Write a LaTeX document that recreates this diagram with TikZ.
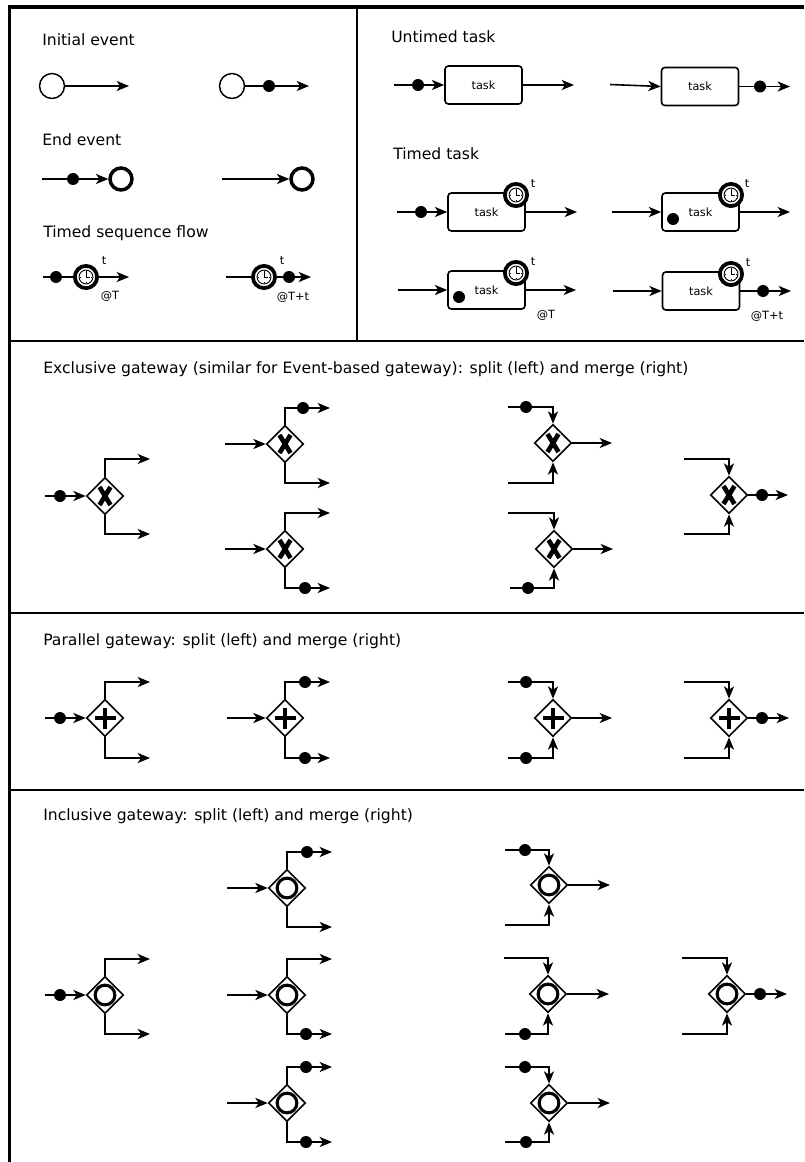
\documentclass[tikz,border=0pt]{standalone}
\usepackage{fontspec}
\setmainfont{DejaVu Sans}
\usetikzlibrary{shapes.geometric,arrows.meta}
\begin{document}
\begin{tikzpicture}[x=0.75pt,y=-0.75pt,
  ln/.style={line width=1.2pt},
  arr/.style={line width=1.2pt,-{Stealth[length=9.3pt,width=7.6pt,inset=2.6pt]}},
  dotn/.style={circle,fill=black,minimum size=9pt,inner sep=0pt},
  startev/.style={circle,draw,line width=1.1pt,minimum size=18.75pt,inner sep=0pt},
  endev/.style={circle,draw,line width=2.6pt,minimum size=16.5pt,inner sep=0pt},
  clk/.style={circle,draw,line width=2.8pt,fill=white,minimum size=16.7pt,inner sep=0pt},
  taskbox/.style={draw,line width=1.2pt,rounded corners=2.5pt,minimum width=57.75pt,minimum height=28.5pt,inner sep=0pt,font=\fontsize{8.5}{10}\selectfont},
  gw/.style={diamond,draw,line width=1.2pt,fill=white,minimum width=27.75pt,minimum height=27.75pt,inner sep=0pt},
  lbl/.style={anchor=west,inner sep=0pt,font=\fontsize{11.7}{14}\selectfont},
  small/.style={inner sep=0pt,font=\fontsize{8.5}{10}\selectfont},
  frame/.style={line width=2.6pt},
  divider/.style={line width=1.5pt},
  clockface/.pic={\draw[line width=0.7pt] (0,0) circle[radius=5.2pt];
    \draw[line width=0.7pt] (0,0) -- (0,-5) (0,0) -- (3.6,0);
    \draw[line width=0.4pt] (0,-6) -- (0,-5.2) (0,6) -- (0,5.2) (-6,0) -- (-5.2,0) (6,0) -- (5.2,0);},
  xmk/.pic={\draw[line width=3.5pt] (-5.5,-9) -- (5.5,9) (5.5,-9) -- (-5.5,9);},
  plusmk/.pic={\draw[line width=3.6pt] (0,-10.5) -- (0,10.5) (-10.5,0) -- (10.5,0);},
  omk/.pic={\draw[line width=2.3pt] (0,0) circle[radius=7.4pt];}
]
\useasboundingbox (0,0) rectangle (804,1162);

% ---------- frame and dividers ----------
\draw[frame,line join=miter] (9.5,1162) -- (9.5,7) -- (804,7);
\draw[divider] (357,7) -- (357,341);
\draw[divider] (9.5,341) -- (804,341);
\draw[divider] (9.5,613) -- (804,613);
\draw[divider] (9.5,790) -- (804,790);

% ---------- Initial event ----------
\node[lbl] (l1) at (42,40) {Initial event};
\node[startev] (s1) at (52,86) {};
\coordinate (s1e) at (129,86);
\draw[arr] (s1) -- (s1e);
\node[startev] (s2) at (232,86) {};
\node[dotn] (s2d) at (269,86) {};
\coordinate (s2e) at (309,86);
\draw[ln] (s2) -- (s2d);
\draw[arr] (s2d) -- (s2e);

% ---------- End event ----------
\node[lbl] (l2) at (42,140) {End event};
\coordinate (e1s) at (42,179);
\node[dotn] (e1d) at (73,179) {};
\node[endev] (e1) at (121,179) {};
\draw[ln] (e1s) -- (e1d);
\draw[arr] (e1d) -- (e1);
\coordinate (e2s) at (222,179);
\node[endev] (e2) at (302,179) {};
\draw[arr] (e2s) -- (e2);

% ---------- Timed sequence flow ----------
\node[lbl] (l3) at (43,233) {Timed sequence flow};
\coordinate (f1s) at (43,277);
\node[dotn] (f1d) at (56,277) {};
\node[clk] (f1c) at (86,277) {};
\pic at (f1c) {clockface};
\coordinate (f1e) at (129,277);
\draw[ln] (f1s) -- (f1d);
\draw[ln] (f1d) -- (f1c);
\draw[arr] (f1c) -- (f1e);
\node[small] (f1t) at (104,261) {t};
\node[small] (f1T) at (110,296) {@T};

\coordinate (f2s) at (226,277);
\node[clk] (f2c) at (264,277) {};
\pic at (f2c) {clockface};
\node[dotn] (f2d) at (289,277) {};
\coordinate (f2e) at (311,277);
\draw[ln] (f2s) -- (f2c);
\draw[ln] (f2c) -- (f2d);
\draw[arr] (f2d) -- (f2e);
\node[small] (f2t) at (282,261) {t};
\node[small] (f2T) at (293,297) {@T+t};

% ---------- Untimed task ----------
\node[lbl] (l4) at (391,37) {Untimed task};
\coordinate (u1s) at (394,85);
\node[dotn] (u1d) at (418,85) {};
\node[taskbox] (u1) at (483.5,85) {task};
\coordinate (u1e) at (574,85);
\draw[ln] (u1s) -- (u1d);
\draw[arr] (u1d) -- (u1);
\draw[arr] (u1) -- (u1e);

\coordinate (u2s) at (610,84.5);
\node[taskbox] (u2) at (700,86.5) {task};
\node[dotn] (u2d) at (760,86.5) {};
\coordinate (u2e) at (790,86.5);
\draw[arr] (u2s) -- (u2.west);
\draw[ln] (u2) -- (u2d);
\draw[arr] (u2d) -- (u2e);

% ---------- Timed task ----------
\node[lbl] (l5) at (393,154) {Timed task};
% row 1 left
\coordinate (t1s) at (397,212);
\node[dotn] (t1d) at (421,212) {};
\node[taskbox] (t1) at (486.5,212) {task};
\node[clk] (t1c) at (516,195) {};
\pic at (t1c) {clockface};
\node[small] (t1t) at (533,184) {t};
\coordinate (t1e) at (577,212);
\draw[ln] (t1s) -- (t1d);
\draw[arr] (t1d) -- (t1);
\draw[arr] (t1) -- (t1e);
% row 1 right
\coordinate (t2s) at (612,212);
\node[taskbox] (t2) at (700.5,212) {task};
\node[dotn] (t2d) at (673,219) {};
\node[clk] (t2c) at (731,195) {};
\pic at (t2c) {clockface};
\node[small] (t2t) at (747,184) {t};
\coordinate (t2e) at (790,212);
\draw[arr] (t2s) -- (t2);
\draw[arr] (t2) -- (t2e);
% row 2 left
\coordinate (t3s) at (398,290);
\node[taskbox] (t3) at (486.5,290) {task};
\node[dotn] (t3d) at (459,297) {};
\node[clk] (t3c) at (516,273) {};
\pic at (t3c) {clockface};
\node[small] (t3t) at (533,262) {t};
\coordinate (t3e) at (576,290);
\draw[arr] (t3s) -- (t3);
\draw[arr] (t3) -- (t3e);
\node[small] (t3T) at (546,315) {@T};
% row 2 right
\coordinate (t4s) at (613,291);
\node[taskbox] (t4) at (701,291) {task};
\node[clk] (t4c) at (731,274) {};
\pic at (t4c) {clockface};
\node[small] (t4t) at (748,263) {t};
\node[dotn] (t4d) at (763,291) {};
\coordinate (t4e) at (791,291);
\draw[arr] (t4s) -- (t4);
\draw[ln] (t4) -- (t4d);
\draw[arr] (t4d) -- (t4e);
\node[small] (t4T) at (767,316) {@T+t};

% ---------- Exclusive gateway ----------
\node[lbl] (l6) at (43,369) {Exclusive gateway (similar for Event-based gateway): split (left) and merge (right)};
% G1 split
\node[gw] (g1) at (105,496) {}; \pic at (g1) {xmk};
\coordinate (g1s) at (45,496);
\node[dotn] (g1d) at (60,496) {};
\coordinate (g1a) at (150,459);
\coordinate (g1b) at (150,534);
\draw[ln] (g1s) -- (g1d);
\draw[arr] (g1d) -- (g1);
\draw[arr] (g1.north) |- (g1a);
\draw[arr] (g1.south) |- (g1b);
% G2 split
\node[gw] (g2) at (285,444) {}; \pic at (g2) {xmk};
\coordinate (g2s) at (225,444);
\node[dotn] (g2d) at (303,408) {};
\coordinate (g2a) at (330,408);
\coordinate (g2b) at (330,483);
\draw[arr] (g2s) -- (g2);
\draw[ln] (g2.north) |- (g2d);
\draw[arr] (g2d) -- (g2a);
\draw[arr] (g2.south) |- (g2b);
% G3 split
\node[gw] (g3) at (285,549) {}; \pic at (g3) {xmk};
\coordinate (g3s) at (225,549);
\coordinate (g3a) at (330,513);
\node[dotn] (g3d) at (305,588) {};
\coordinate (g3b) at (330,588);
\draw[arr] (g3s) -- (g3);
\draw[arr] (g3.north) |- (g3a);
\draw[ln] (g3.south) |- (g3d);
\draw[arr] (g3d) -- (g3b);
% G4 merge
\node[gw] (g4) at (553,443) {}; \pic at (g4) {xmk};
\coordinate (g4a) at (508,407);
\node[dotn] (g4d) at (526,407) {};
\coordinate (g4b) at (508,483);
\coordinate (g4e) at (612,443);
\draw[ln] (g4a) -- (g4d);
\draw[arr] (g4d) -| (g4.north);
\draw[arr] (g4b) -| (g4.south);
\draw[arr] (g4) -- (g4e);
% G5 merge
\node[gw] (g5) at (554,549) {}; \pic at (g5) {xmk};
\coordinate (g5a) at (508,513);
\coordinate (g5b) at (510,588);
\node[dotn] (g5d) at (528,588) {};
\coordinate (g5e) at (613,549);
\draw[arr] (g5a) -| (g5.north);
\draw[ln] (g5b) -- (g5d);
\draw[arr] (g5d) -| (g5.south);
\draw[arr] (g5) -- (g5e);
% G6 merge
\node[gw] (g6) at (729,495) {}; \pic at (g6) {xmk};
\coordinate (g6a) at (684,459);
\coordinate (g6b) at (684,534);
\node[dotn] (g6d) at (762,495) {};
\coordinate (g6e) at (788,495);
\draw[arr] (g6a) -| (g6.north);
\draw[arr] (g6b) -| (g6.south);
\draw[ln] (g6) -- (g6d);
\draw[arr] (g6d) -- (g6e);

% ---------- Parallel gateway ----------
\node[lbl] (l7) at (43,641) {Parallel gateway: split (left) and merge (right)};
% P1
\node[gw] (p1) at (105,718) {}; \pic at (p1) {plusmk};
\coordinate (p1s) at (45,718);
\node[dotn] (p1d) at (60,718) {};
\coordinate (p1a) at (150,682);
\coordinate (p1b) at (150,758);
\draw[ln] (p1s) -- (p1d);
\draw[arr] (p1d) -- (p1);
\draw[arr] (p1.north) |- (p1a);
\draw[arr] (p1.south) |- (p1b);
% P2
\node[gw] (p2) at (285,718) {}; \pic at (p2) {plusmk};
\coordinate (p2s) at (227,718);
\node[dotn] (p2da) at (305,682) {};
\node[dotn] (p2db) at (305,758) {};
\coordinate (p2a) at (330,682);
\coordinate (p2b) at (330,758);
\draw[arr] (p2s) -- (p2);
\draw[ln] (p2.north) |- (p2da);
\draw[arr] (p2da) -- (p2a);
\draw[ln] (p2.south) |- (p2db);
\draw[arr] (p2db) -- (p2b);
% P3
\node[gw] (p3) at (553,718) {}; \pic at (p3) {plusmk};
\coordinate (p3a) at (508,682);
\node[dotn] (p3da) at (526,682) {};
\coordinate (p3b) at (508,758);
\node[dotn] (p3db) at (526,758) {};
\coordinate (p3e) at (612,718);
\draw[ln] (p3a) -- (p3da);
\draw[arr] (p3da) -| (p3.north);
\draw[ln] (p3b) -- (p3db);
\draw[arr] (p3db) -| (p3.south);
\draw[arr] (p3) -- (p3e);
% P4
\node[gw] (p4) at (729,718) {}; \pic at (p4) {plusmk};
\coordinate (p4a) at (684,682);
\coordinate (p4b) at (684,758);
\node[dotn] (p4d) at (762,718) {};
\coordinate (p4e) at (789,718);
\draw[arr] (p4a) -| (p4.north);
\draw[arr] (p4b) -| (p4.south);
\draw[ln] (p4) -- (p4d);
\draw[arr] (p4d) -- (p4e);

% ---------- Inclusive gateway ----------
\node[lbl] (l8) at (43,816) {Inclusive gateway: split (left) and merge (right)};
% I1
\node[gw] (i1) at (105,995) {}; \pic at (i1) {omk};
\coordinate (i1s) at (45,995);
\node[dotn] (i1d) at (60,995) {};
\coordinate (i1a) at (150,959);
\coordinate (i1b) at (150,1034);
\draw[ln] (i1s) -- (i1d);
\draw[arr] (i1d) -- (i1);
\draw[arr] (i1.north) |- (i1a);
\draw[arr] (i1.south) |- (i1b);
% I2
\node[gw] (i2) at (287,888) {}; \pic at (i2) {omk};
\coordinate (i2s) at (227,888);
\node[dotn] (i2d) at (307,852) {};
\coordinate (i2a) at (332,852);
\coordinate (i2b) at (332,927);
\draw[arr] (i2s) -- (i2);
\draw[ln] (i2.north) |- (i2d);
\draw[arr] (i2d) -- (i2a);
\draw[arr] (i2.south) |- (i2b);
% I3
\node[gw] (i3) at (287,995) {}; \pic at (i3) {omk};
\coordinate (i3s) at (227,995);
\coordinate (i3a) at (332,959);
\node[dotn] (i3d) at (306,1034) {};
\coordinate (i3b) at (332,1034);
\draw[arr] (i3s) -- (i3);
\draw[arr] (i3.north) |- (i3a);
\draw[ln] (i3.south) |- (i3d);
\draw[arr] (i3d) -- (i3b);
% I4
\node[gw] (i4) at (287,1103) {}; \pic at (i4) {omk};
\coordinate (i4s) at (227,1103);
\node[dotn] (i4da) at (306,1067) {};
\node[dotn] (i4db) at (306,1142) {};
\coordinate (i4a) at (332,1067);
\coordinate (i4b) at (332,1142);
\draw[arr] (i4s) -- (i4);
\draw[ln] (i4.north) |- (i4da);
\draw[arr] (i4da) -- (i4a);
\draw[ln] (i4.south) |- (i4db);
\draw[arr] (i4db) -- (i4b);
% I5
\node[gw] (i5) at (549,885) {}; \pic at (i5) {omk};
\coordinate (i5a) at (505,850);
\node[dotn] (i5d) at (525,850) {};
\coordinate (i5b) at (505,925);
\coordinate (i5e) at (610,885);
\draw[ln] (i5a) -- (i5d);
\draw[arr] (i5d) -| (i5.north);
\draw[arr] (i5b) -| (i5.south);
\draw[arr] (i5) -- (i5e);
% I6
\node[gw] (i6) at (548,994) {}; \pic at (i6) {omk};
\coordinate (i6a) at (504,958);
\coordinate (i6b) at (505,1034);
\node[dotn] (i6d) at (525,1034) {};
\coordinate (i6e) at (609,994);
\draw[arr] (i6a) -| (i6.north);
\draw[ln] (i6b) -- (i6d);
\draw[arr] (i6d) -| (i6.south);
\draw[arr] (i6) -- (i6e);
% I7
\node[gw] (i7) at (549,1103) {}; \pic at (i7) {omk};
\coordinate (i7a) at (505,1067);
\node[dotn] (i7da) at (525,1067) {};
\coordinate (i7b) at (505,1142);
\node[dotn] (i7db) at (526,1142) {};
\coordinate (i7e) at (610,1103);
\draw[ln] (i7a) -- (i7da);
\draw[arr] (i7da) -| (i7.north);
\draw[ln] (i7b) -- (i7db);
\draw[arr] (i7db) -| (i7.south);
\draw[arr] (i7) -- (i7e);
% I8
\node[gw] (i8) at (727,994) {}; \pic at (i8) {omk};
\coordinate (i8a) at (682,958);
\coordinate (i8b) at (682,1034);
\node[dotn] (i8d) at (760,994) {};
\coordinate (i8e) at (787,994);
\draw[arr] (i8a) -| (i8.north);
\draw[arr] (i8b) -| (i8.south);
\draw[ln] (i8) -- (i8d);
\draw[arr] (i8d) -- (i8e);
\end{tikzpicture}
\end{document}
